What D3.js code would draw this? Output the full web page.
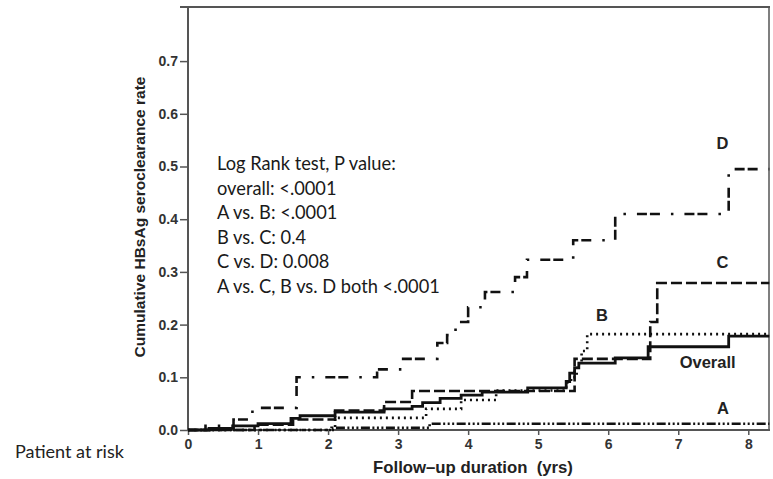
<!DOCTYPE html>
<html>
<head>
<meta charset="utf-8">
<script src="https://cdn.jsdelivr.net/npm/d3@7"></script>
<style>
  html, body { margin: 0; padding: 0; background: #fff; }
  svg { display: block; }
</style>
</head>
<body>
<svg id="chart" width="773" height="479"></svg>
<script>
// Cumulative HBsAg seroclearance (Kaplan–Meier style step curves)
const xTicks = [0, 1, 2, 3, 4, 5, 6, 7, 8];
const yTicks = [0, 0.1, 0.2, 0.3, 0.4, 0.5, 0.6, 0.7];

const overallT = [0, 0.3, 0.65, 1.0, 1.47, 1.6, 2.1, 2.8, 3.2, 3.35, 3.6, 3.9, 4.2, 4.85, 5.4, 5.45, 5.52, 5.58, 6.1, 6.57, 7.72, 8.3];
const overallV = [0, 0.003, 0.008, 0.012, 0.022, 0.027, 0.034, 0.04, 0.045, 0.052, 0.06, 0.066, 0.072, 0.08, 0.092, 0.108, 0.118, 0.127, 0.137, 0.158, 0.178, 0.178];

const groupAT = [0, 2.05, 3.45, 8.3];
const groupAV = [0, 0.004, 0.012, 0.012];

const groupBT = [0, 2.1, 3.4, 3.9, 4.4, 5.4, 5.47, 5.55, 5.62, 5.7, 8.3];
const groupBV = [0, 0.023, 0.04, 0.057, 0.075, 0.09, 0.1, 0.125, 0.15, 0.182, 0.182];

const groupCT = [0, 0.95, 1.5, 2.1, 2.8, 3.2, 5.52, 6.6, 6.7, 8.3];
const groupCV = [0, 0.01, 0.02, 0.037, 0.053, 0.074, 0.135, 0.205, 0.279, 0.279];

const groupDT = [0, 0.25, 0.65, 0.92, 1.55, 2.7, 3.05, 3.56, 3.7, 3.82, 4.0, 4.24, 4.67, 4.84, 5.5, 6.1, 7.72, 8.3];
const groupDV = [0, 0.008, 0.02, 0.042, 0.1, 0.115, 0.135, 0.165, 0.18, 0.205, 0.233, 0.262, 0.29, 0.323, 0.36, 0.41, 0.495, 0.495];

const statLines = [
  "Log Rank test, P value:",
  "overall: <.0001",
  "A vs. B: <.0001",
  "B vs. C: 0.4",
  "C vs. D: 0.008",
  "A vs. C, B vs. D both <.0001"
];

const svg = d3.select("#chart");
const margin = { left: 188, right: 3, top: 7, bottom: 49 };
const W = 773, H = 479;

const x = d3.scaleLinear().domain([0, 8.31]).range([margin.left, W - margin.right]);
const y = d3.scaleLinear().domain([0, 0.8]).range([H - margin.bottom, 8.4]);

const axisColor = "#555";
const textColor = "#333";

// fit a text element's font size so that its rendered width equals target
function fitWidth(sel, target) {
  const node = sel.node();
  const fs = parseFloat(sel.attr("font-size"));
  const w = node.getComputedTextLength();
  sel.attr("font-size", (fs * target / w).toFixed(2));
}

// frame: top and right borders
svg.append("line").attr("x1", 180).attr("x2", x(8.31)).attr("y1", margin.top).attr("y2", margin.top)
  .attr("stroke", axisColor).attr("stroke-width", 2);
svg.append("line").attr("x1", x(8.31) - 1).attr("x2", x(8.31) - 1).attr("y1", margin.top).attr("y2", y(0))
  .attr("stroke", axisColor).attr("stroke-width", 1.5);

// y axis
const yAxis = d3.axisLeft(y).tickValues(yTicks).tickFormat(d3.format(".1f")).tickSize(8).tickPadding(2);
const gy = svg.append("g").attr("transform", `translate(${x(0)},0)`).call(yAxis);
gy.select(".domain").attr("d", `M0,${margin.top}V${y(0)}`).attr("stroke", axisColor).attr("stroke-width", 2);
gy.selectAll(".tick line").attr("stroke", axisColor).attr("stroke-width", 1.5);
gy.selectAll(".tick text").attr("fill", textColor).attr("font-family", "Liberation Sans, Arial, sans-serif")
  .attr("font-size", 14).attr("font-weight", "bold");

// x axis
const xAxis = d3.axisBottom(x).tickValues(xTicks).tickFormat(d3.format("d")).tickSize(5).tickPadding(4);
const gx = svg.append("g").attr("transform", `translate(0,${y(0)})`).call(xAxis);
gx.select(".domain").attr("d", `M${x(0)},0H${x(8.31)}`).attr("stroke", axisColor).attr("stroke-width", 2);
gx.selectAll(".tick line").attr("stroke", axisColor).attr("stroke-width", 1.5);
gx.selectAll(".tick text").attr("fill", textColor).attr("font-family", "Liberation Sans, Arial, sans-serif")
  .attr("font-size", 14).attr("font-weight", "bold");

// axis titles
const yTitle = svg.append("text")
  .attr("transform", "translate(145,217) rotate(-90)")
  .attr("text-anchor", "middle")
  .attr("font-family", "Liberation Sans, Arial, sans-serif").attr("font-weight", "bold")
  .attr("font-size", 13).attr("fill", "#222")
  .text("Cumulative HBsAg seroclearance rate");
fitWidth(yTitle, 281);

const xTitle = svg.append("text")
  .attr("x", 473).attr("y", 473)
  .attr("text-anchor", "middle")
  .attr("font-family", "Liberation Sans, Arial, sans-serif").attr("font-weight", "bold")
  .attr("font-size", 13).attr("fill", "#222")
  .text("Follow\u2013up duration  (yrs)");
xTitle.style("white-space", "pre");
fitWidth(xTitle, 200);

const risk = svg.append("text")
  .attr("x", 15).attr("y", 458)
  .attr("font-family", "Lato, 'Open Sans', sans-serif")
  .attr("font-size", 15).attr("fill", "#222")
  .text("Patient at risk");
fitWidth(risk, 109);

// log-rank results
const stats = svg.append("g").attr("font-family", "Lato, 'Open Sans', sans-serif").attr("fill", "#1a1a1a");
const statText = stats.selectAll("text").data(statLines).join("text")
  .attr("x", 217).attr("y", (d, i) => 170 + i * 24.5)
  .attr("font-size", 16)
  .text(d => d);
{
  const last = statText.filter((d, i) => i === statLines.length - 1);
  const w = last.node().getComputedTextLength();
  const fs = 16 * 223 / w;
  statText.attr("font-size", fs.toFixed(2));
}

// curves
const step = d3.line().x(d => x(d[0])).y(d => y(d[1])).curve(d3.curveStepAfter);
const series = [
  { t: groupAT, v: groupAV, dash: "9,2.5,2,2.5,2,2.5,2,2.5" },
  { t: groupBT, v: groupBV, dash: "2,4" },
  { t: groupCT, v: groupCV, dash: "11,4" },
  { t: groupDT, v: groupDV, dash: "10,3,10,11,2.5,11" },
  { t: overallT, v: overallV, dash: null }
];
svg.append("g").selectAll("path").data(series).join("path")
  .attr("d", s => step(s.t.map((t, i) => [t, s.v[i]])))
  .attr("fill", "none")
  .attr("stroke", "#111")
  .attr("stroke-width", s => s.dash ? 2.6 : 2.8)
  .attr("stroke-dasharray", s => s.dash);

// group labels
const labels = [
  { name: "D", t: 7.63, v: 0.533 },
  { name: "C", t: 7.63, v: 0.307 },
  { name: "B", t: 5.91, v: 0.207 },
  { name: "Overall", t: 7.42, v: 0.117 },
  { name: "A", t: 7.64, v: 0.03 }
];
svg.append("g").selectAll("text").data(labels).join("text")
  .attr("x", d => x(d.t)).attr("y", d => y(d.v))
  .attr("text-anchor", "middle")
  .attr("font-family", "Liberation Sans, Arial, sans-serif").attr("font-weight", "bold")
  .attr("font-size", 16.5).attr("fill", "#222")
  .text(d => d.name);
</script>
</body>
</html>
